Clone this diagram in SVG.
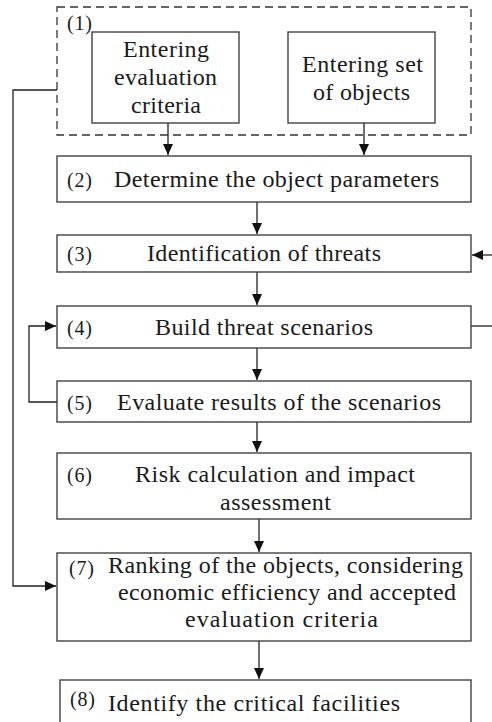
<svg xmlns="http://www.w3.org/2000/svg" width="492" height="722" viewBox="0 0 492 722">
<defs>
<style>
.box{fill:#fff;stroke:#333;stroke-width:1.3}
.dash{fill:none;stroke:#333;stroke-width:1.3;stroke-dasharray:8 5}
.c{fill:none;stroke:#222;stroke-width:1.3}
</style>
<marker id="ah" markerUnits="userSpaceOnUse" markerWidth="12" markerHeight="10" refX="11" refY="5" orient="auto">
<path d="M0,0 L11,5 L0,10 Z" fill="#111"/>
</marker>
</defs>
<rect width="492" height="722" fill="#fff"/>

<g id="connectors">
<path class="c" d="M168,123 V155" marker-end="url(#ah)"/>
<path class="c" d="M364,123 V155" marker-end="url(#ah)"/>
<path class="c" d="M257,202 V234" marker-end="url(#ah)"/>
<path class="c" d="M257,272 V305" marker-end="url(#ah)"/>
<path class="c" d="M257,348 V380" marker-end="url(#ah)"/>
<path class="c" d="M257,422 V452" marker-end="url(#ah)"/>
<path class="c" d="M259,519 V552" marker-end="url(#ah)"/>
<path class="c" d="M259,641 V679" marker-end="url(#ah)"/>
<path class="c" d="M492,255 H472" marker-end="url(#ah)"/>
<path class="c" d="M471,326 H492"/>
<path class="c" d="M57,402 H29 V326 H56" marker-end="url(#ah)"/>
<path class="c" d="M57,90 H13 V586 H56" marker-end="url(#ah)"/>
</g>

<g font-family="Liberation Serif, Times New Roman, serif" fill="#1a1a1a" font-size="24">
<g id="n1">
<rect class="dash" x="57" y="7" width="414" height="128"/>
<text font-size="20" x="67" y="30" textLength="25" lengthAdjust="spacing">(1)</text>
</g>
<g id="n1a">
<rect class="box" x="92" y="32" width="147" height="91"/>
<text x="123" y="57" textLength="86" lengthAdjust="spacing">Entering</text>
<text x="114" y="85" textLength="103" lengthAdjust="spacing">evaluation</text>
<text x="131" y="113" textLength="70" lengthAdjust="spacing">criteria</text>
</g>
<g id="n1b">
<rect class="box" x="288" y="32" width="147" height="91"/>
<text x="302" y="72" textLength="121" lengthAdjust="spacing">Entering set</text>
<text x="313" y="100" textLength="97" lengthAdjust="spacing">of objects</text>
</g>
<g id="n2">
<rect class="box" x="57" y="156" width="414" height="46"/>
<text font-size="20" x="67" y="187" textLength="25" lengthAdjust="spacing">(2)</text>
<text x="114" y="187" textLength="325" lengthAdjust="spacing">Determine the object parameters</text>
</g>
<g id="n3">
<rect class="box" x="57" y="235" width="414" height="37"/>
<text font-size="20" x="67" y="261" textLength="25" lengthAdjust="spacing">(3)</text>
<text x="147" y="261" textLength="234" lengthAdjust="spacing">Identification of threats</text>
</g>
<g id="n4">
<rect class="box" x="57" y="306" width="414" height="42"/>
<text font-size="20" x="67" y="335" textLength="25" lengthAdjust="spacing">(4)</text>
<text x="155" y="335" textLength="218" lengthAdjust="spacing">Build threat scenarios</text>
</g>
<g id="n5">
<rect class="box" x="57" y="381" width="414" height="41"/>
<text font-size="20" x="67" y="410" textLength="25" lengthAdjust="spacing">(5)</text>
<text x="117" y="410" textLength="324" lengthAdjust="spacing">Evaluate results of the scenarios</text>
</g>
<g id="n6">
<rect class="box" x="57" y="453" width="414" height="66"/>
<text font-size="20" x="67" y="482" textLength="25" lengthAdjust="spacing">(6)</text>
<text x="135" y="482" textLength="280" lengthAdjust="spacing">Risk calculation and impact</text>
<text x="220" y="510" textLength="111" lengthAdjust="spacing">assessment</text>
</g>
<g id="n7">
<rect class="box" x="57" y="553" width="414" height="88"/>
<text font-size="20" x="69" y="575" textLength="25" lengthAdjust="spacing">(7)</text>
<text x="108" y="573" textLength="355" lengthAdjust="spacing">Ranking of the objects, considering</text>
<text x="118" y="600" textLength="338" lengthAdjust="spacing">economic efficiency and accepted</text>
<text x="185" y="627" textLength="193" lengthAdjust="spacing">evaluation criteria</text>
</g>
<g id="n8">
<rect class="box" x="60" y="680" width="411" height="50"/>
<text font-size="20" x="70" y="706" textLength="25" lengthAdjust="spacing">(8)</text>
<text x="108" y="711" textLength="292" lengthAdjust="spacing">Identify the critical facilities</text>
</g>
</g>
</svg>
